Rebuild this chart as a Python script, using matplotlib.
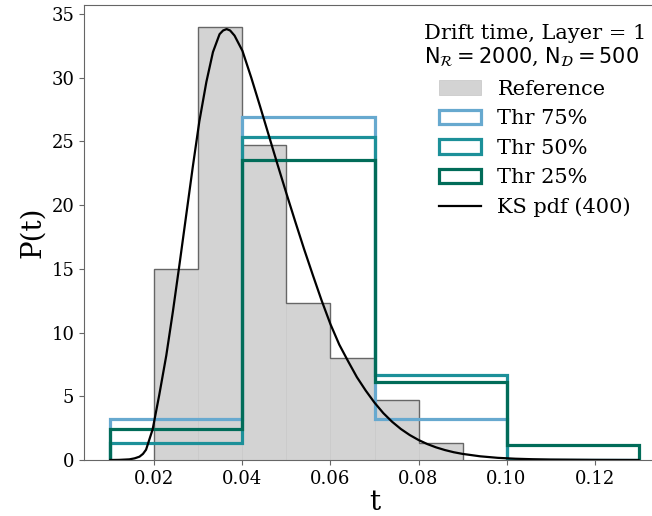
import numpy as np
import matplotlib
matplotlib.use("Agg")
import matplotlib.pyplot as plt

# reference histogram (density), 0.01 bins
ref_edges = [0.02, 0.03, 0.04, 0.05, 0.06, 0.07, 0.08, 0.09]
ref_heights = [15.0, 34.0, 24.7, 12.3, 8.0, 4.7, 1.3]

# threshold histograms, 0.03 bins
thr_edges = [0.01, 0.04, 0.07, 0.10, 0.13]
thr75 = [3.2, 26.93, 3.2, 0.0]
thr50 = [1.33, 25.33, 6.67, 0.0]
thr25 = [2.47, 23.53, 6.13, 1.2]

# KS pdf curve
ks_t = [0.0100, 0.0120, 0.0143, 0.0155, 0.0166, 0.0174, 0.0181, 0.0196, 0.0211,
        0.0227, 0.0242, 0.0257, 0.0272, 0.0287, 0.0302, 0.0318, 0.0333, 0.0348,
        0.0356, 0.0364, 0.0372, 0.0382, 0.0400, 0.0420, 0.0440, 0.0460, 0.0480,
        0.0500, 0.0520, 0.0540, 0.0560, 0.0580, 0.0600, 0.0620, 0.0640, 0.0660,
        0.0680, 0.0700, 0.0720, 0.0740, 0.0760, 0.0780, 0.0800, 0.0820, 0.0840,
        0.0860, 0.0880, 0.0900, 0.0940, 0.0980, 0.1020, 0.1060, 0.1100, 0.1200,
        0.1300]
ks_p = [0.00, 0.01, 0.05, 0.13, 0.26, 0.48, 0.81, 2.41, 5.11,
        8.21, 11.66, 15.36, 19.16, 22.96, 26.56, 29.66, 32.01, 33.41,
        33.70, 33.81, 33.70, 33.30, 32.10, 30.00, 27.75, 25.45, 23.15,
        20.90, 18.70, 16.55, 14.50, 12.50, 10.65, 9.05, 7.75, 6.50,
        5.45, 4.50, 3.68, 3.00, 2.43, 1.96, 1.57, 1.25, 0.99,
        0.78, 0.61, 0.48, 0.29, 0.17, 0.10, 0.06, 0.035, 0.01,
        0.00]

plt.rcParams['font.family'] = 'serif'
plt.rcParams['font.serif'] = ['DejaVu Serif']
plt.rcParams['mathtext.fontset'] = 'dejavusans'

fig = plt.figure(figsize=(6.52, 5.16), dpi=100)
ax = fig.add_axes([84 / 652, 56 / 516, 581 / 652, 455 / 516])

ref_left = np.array(ref_edges[:-1])
ax.hist(ref_left, bins=ref_edges, weights=ref_heights, histtype='bar',
        color='lightgray', edgecolor='#cbcbcb', linewidth=0.6, label='Reference')
ax.hist(ref_left, bins=ref_edges, weights=ref_heights, histtype='step',
        color='0.4', linewidth=1.0)

thr_left = np.array(thr_edges[:-1])
for vals, col, lab in [(thr75, '#67a9cf', 'Thr 75%'),
                       (thr50, '#1c9099', 'Thr 50%'),
                       (thr25, '#016c59', 'Thr 25%')]:
    ax.hist(thr_left, bins=thr_edges, weights=vals, histtype='step',
            color=col, linewidth=2.3, label=lab)

ax.plot(ks_t, ks_p, color='black', linewidth=1.6, label='KS pdf (400)')

ax.set_yticks([0, 5, 10, 15, 20, 25, 30, 35])
ax.set_xticks([0.02, 0.04, 0.06, 0.08, 0.10, 0.12])
ax.set_xticklabels(['0.02', '0.04', '0.06', '0.08', '0.10', '0.12'])
ax.tick_params(labelsize=13, color='0.4', labelcolor='black')
for s in ax.spines.values():
    s.set_color('0.4')
ax.set_xlabel('t', fontsize=20, labelpad=1)
ax.set_ylabel('P(t)', fontsize=20)

ax.legend(title='Drift time, Layer = 1\n'
                r'$\mathrm{N}_\mathcal{R} = 2000$, $\mathrm{N}_\mathcal{D} = 500$',
          loc='upper right', frameon=False, fontsize=15, title_fontsize=15)

fig.savefig('out.png', dpi=100)
